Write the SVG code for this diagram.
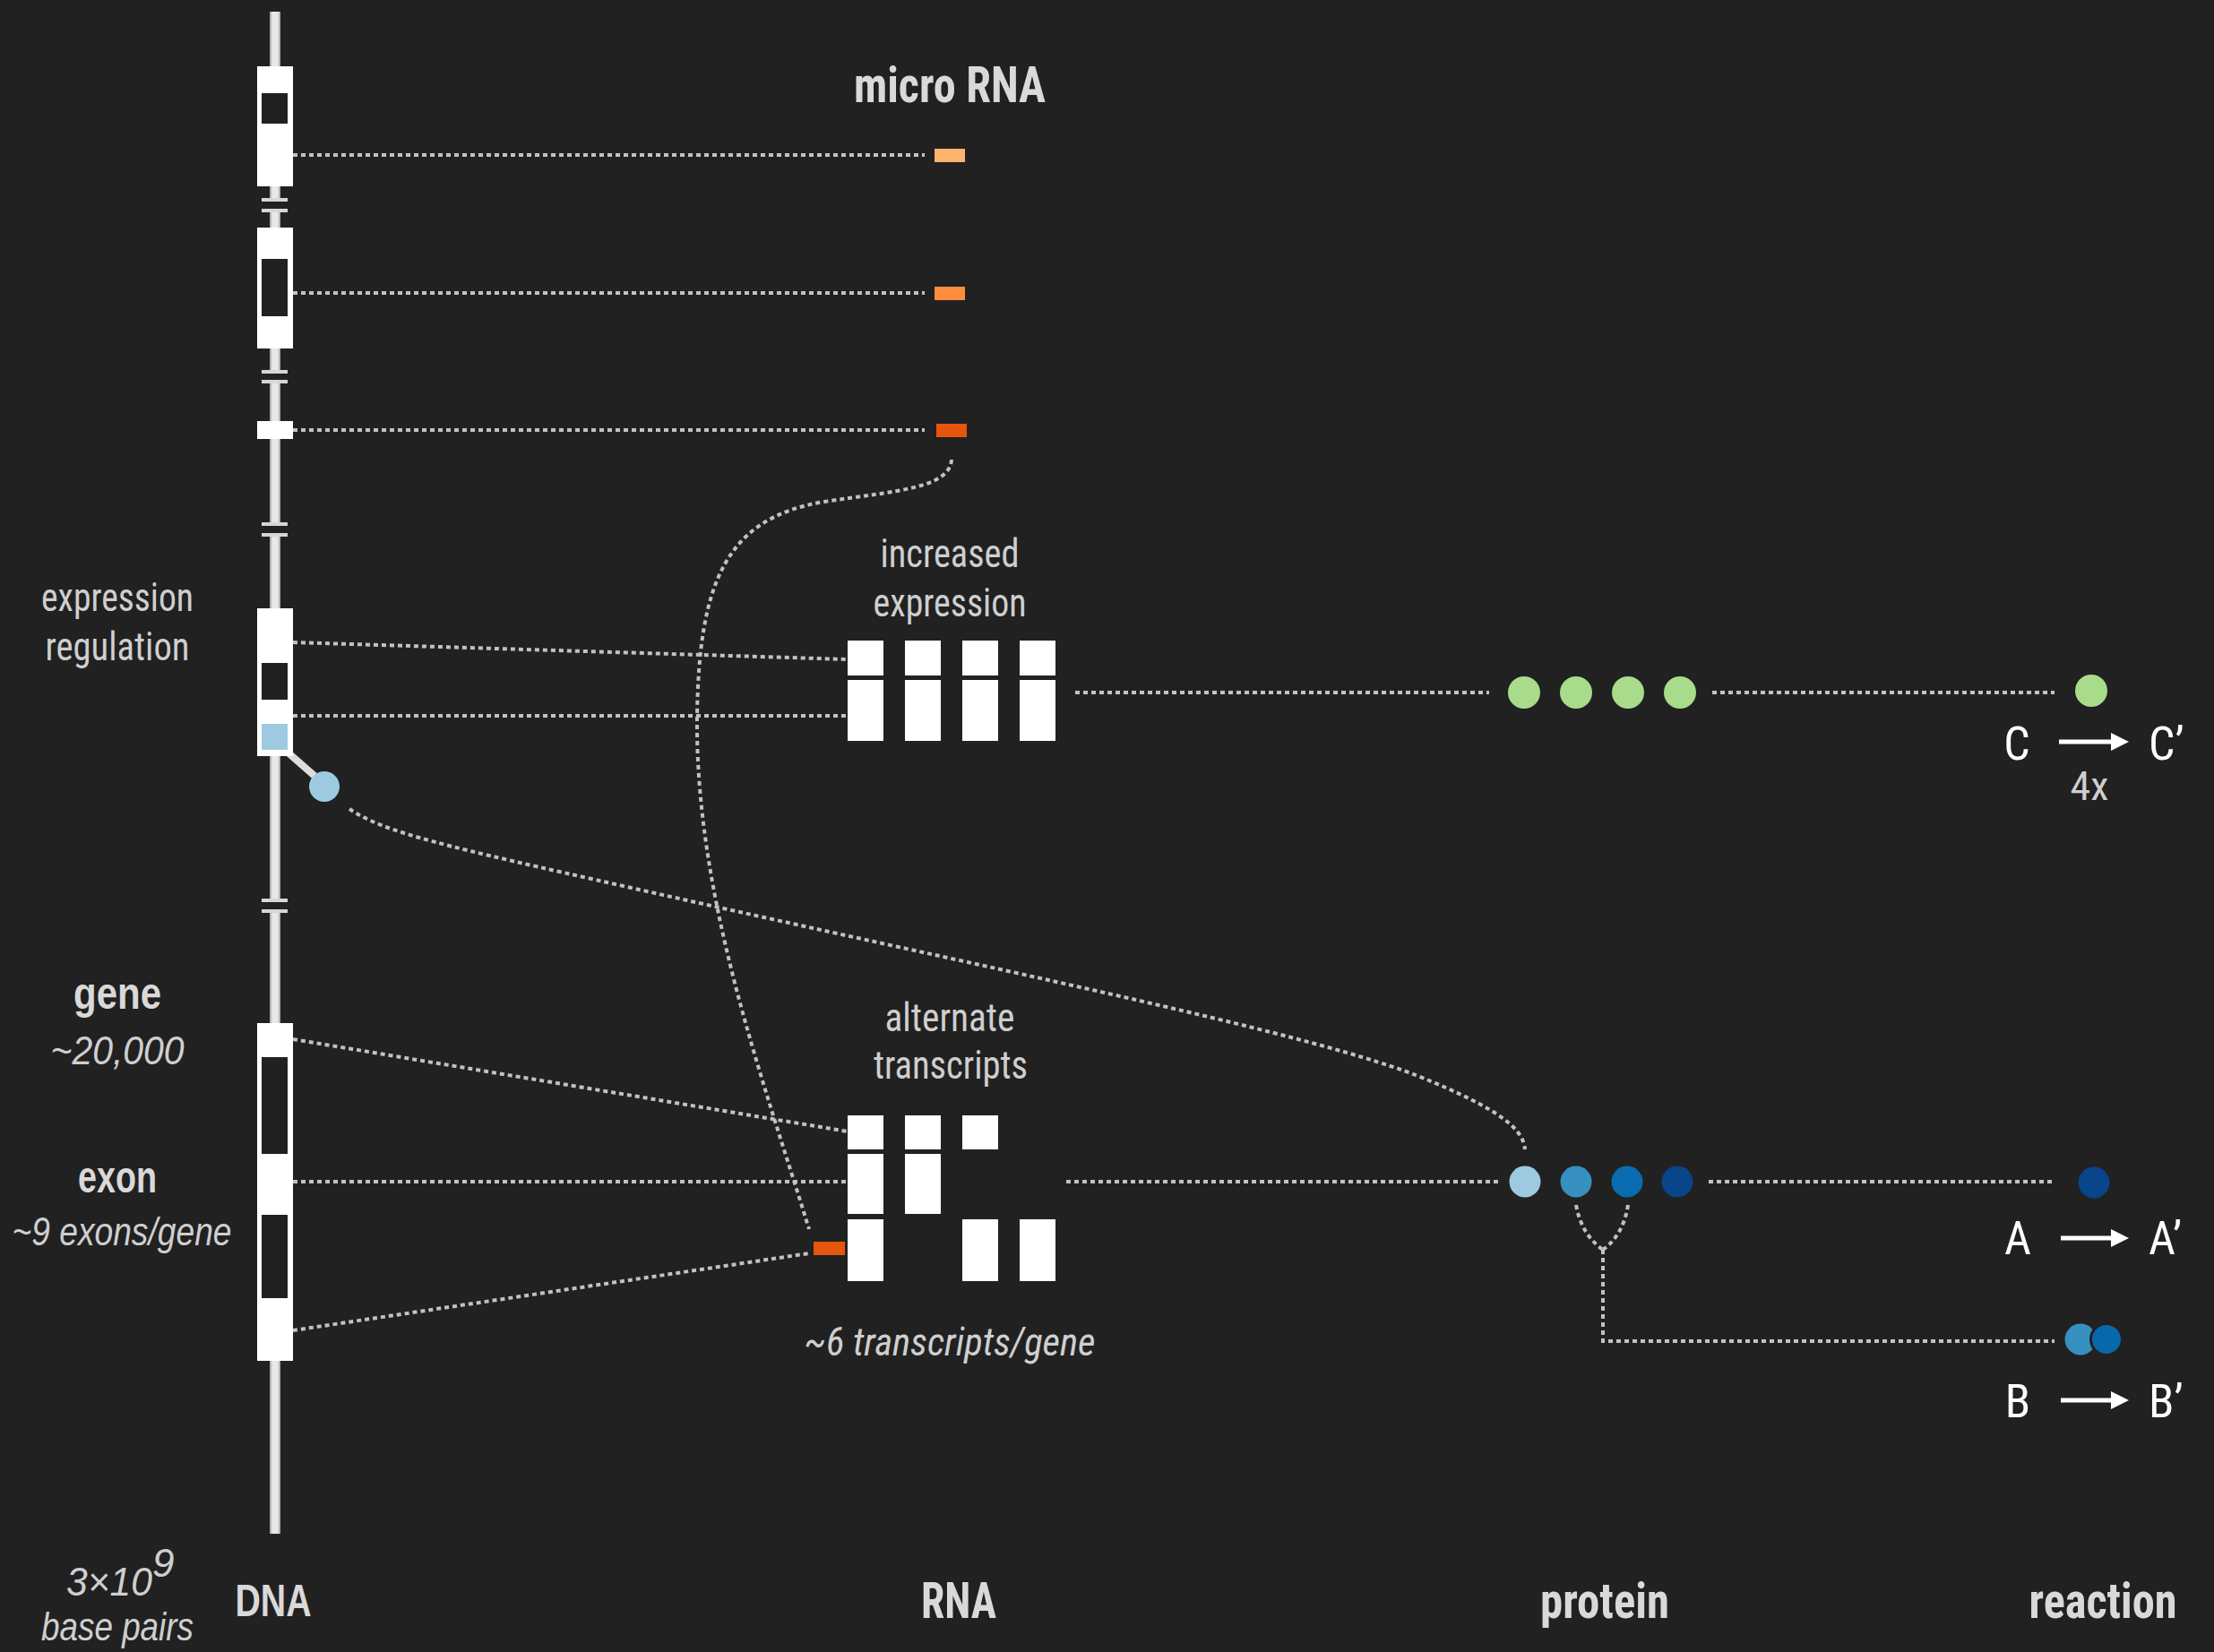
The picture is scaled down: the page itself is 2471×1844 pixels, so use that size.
<svg xmlns="http://www.w3.org/2000/svg" width="2471" height="1844" viewBox="0 0 2471 1844">
<defs>
<style>
.cond{font-family:'Liberation Sans Narrow','Roboto Condensed',Roboto,'Liberation Sans',sans-serif;fill:#cfcfcf;font-size:44px}
.head{font-family:'Liberation Sans Narrow','Roboto Condensed',Roboto,'Liberation Sans',sans-serif;font-weight:bold;fill:#d9d9d9;font-size:55px}
.ital{font-family:'Liberation Sans',Arial,sans-serif;font-style:italic;fill:#cfcfcf;font-size:44px}
.bold{font-family:'Liberation Sans',Arial,sans-serif;font-weight:bold;fill:#d9d9d9;font-size:50px}
.rx{font-family:'Liberation Sans Narrow','Roboto Condensed',Roboto,sans-serif;fill:#ffffff;font-size:52px}
.dot{fill:none;stroke:#c2c2c2;stroke-width:4;stroke-dasharray:5 4}
.exon{fill:#ffffff}
.intron{fill:#212121}
.brk{fill:#d6d6d6}
.gap{fill:#212121}
.arr{stroke:#ffffff;stroke-width:5;fill:none;marker-end:url(#ah)}
</style>
<linearGradient id="rod" x1="0" x2="1" y1="0" y2="0">
<stop offset="0" stop-color="#9a9a9a"/>
<stop offset="0.25" stop-color="#e8e8e8"/>
<stop offset="0.75" stop-color="#e8e8e8"/>
<stop offset="1" stop-color="#9a9a9a"/>
</linearGradient>
<marker id="ah" markerWidth="4" markerHeight="4" viewBox="0 0 10 10" refX="2" refY="5" orient="auto" markerUnits="strokeWidth">
<path d="M0,0 L10,5 L0,10 z" fill="#ffffff"/>
</marker>
</defs>
<rect x="0" y="0" width="2471" height="1844" fill="#212121"/>

<g id="dna-rod">
<rect x="301" y="13" width="12" height="1699" fill="url(#rod)"/>
<rect class="gap" x="298" y="225" width="18" height="8"/>
<rect class="brk" x="292" y="221" width="29" height="4"/>
<rect class="brk" x="292" y="233" width="29" height="4"/>
<rect class="gap" x="298" y="417" width="18" height="7"/>
<rect class="brk" x="292" y="413" width="29" height="4"/>
<rect class="brk" x="292" y="424" width="29" height="4"/>
<rect class="gap" x="298" y="587" width="18" height="8"/>
<rect class="brk" x="292" y="583" width="29" height="4"/>
<rect class="brk" x="292" y="595" width="29" height="4"/>
<rect class="gap" x="298" y="1007" width="18" height="8"/>
<rect class="brk" x="292" y="1003" width="29" height="4"/>
<rect class="brk" x="292" y="1015" width="29" height="4"/>
</g>

<g id="connectors">
<path class="dot" d="M327,173 H1032"/>
<path class="dot" d="M327,327 H1032"/>
<path class="dot" d="M327,480 H1032"/>
<path class="dot" d="M327,717 L946,736"/>
<path class="dot" d="M327,799 H946"/>
<path class="dot" d="M327,1160 L946,1263"/>
<path class="dot" d="M327,1319 H946"/>
<path class="dot" d="M327,1485 L903,1399"/>
<path class="dot" d="M1062,513 C1060,545 1000,548 920,560 C810,578 780,650 778,800 C776,1000 850,1200 903,1372"/>
<path class="dot" d="M390,903 C430,930 500,945 700,990 C1100,1080 1450,1150 1580,1200 C1680,1240 1700,1262 1702,1283"/>
<path class="dot" d="M1200,773 H1662"/>
<path class="dot" d="M1911,773 H2293"/>
<path class="dot" d="M1190,1319 H1676"/>
<path class="dot" d="M1907,1319 H2293"/>
<path class="dot" d="M1759,1345 Q1765,1378 1789,1395"/>
<path class="dot" d="M1817,1345 Q1812,1378 1789,1395"/>
<path class="dot" d="M1789,1395 V1497 H2293"/>
<path d="M319,838 L351,866" stroke="#dddddd" stroke-width="8" fill="none"/>
</g>

<g id="mirna-gene-1">
<rect class="exon" x="287" y="74" width="40" height="134"/>
<rect class="intron" x="292" y="104" width="29" height="34"/>
</g>
<g id="mirna-gene-2">
<rect class="exon" x="287" y="254" width="40" height="135"/>
<rect class="intron" x="292" y="289" width="29" height="64"/>
</g>
<g id="mirna-gene-3">
<rect class="exon" x="287" y="470" width="40" height="20"/>
</g>
<g id="regulated-gene">
<rect class="exon" x="287" y="679" width="40" height="165"/>
<rect class="intron" x="292" y="740" width="29" height="41"/>
<rect x="292" y="808" width="29" height="29" fill="#9ecae1"/>
</g>
<g id="tf-protein">
<circle cx="362" cy="878" r="17" fill="#9ecae1"/>
</g>
<g id="gene">
<rect class="exon" x="287" y="1142" width="40" height="377"/>
<rect class="intron" x="292" y="1180" width="29" height="108"/>
<rect class="intron" x="292" y="1356" width="29" height="93"/>
</g>

<g id="micro-rna">
<text class="head" x="1060" y="114" text-anchor="middle" textLength="214" lengthAdjust="spacingAndGlyphs">micro RNA</text>
<rect x="1043" y="166" width="34" height="15" fill="#fdb46e"/>
<rect x="1043" y="320" width="34" height="15" fill="#fd8d3c"/>
<rect x="1045" y="473" width="34" height="15" fill="#e6550d"/>
</g>

<g id="increased-expression">
<text class="cond" x="1060" y="633" text-anchor="middle" textLength="155" lengthAdjust="spacingAndGlyphs">increased</text>
<text class="cond" x="1060" y="688" text-anchor="middle" textLength="171" lengthAdjust="spacingAndGlyphs">expression</text>
<rect class="exon" x="946" y="715" width="40" height="39"/>
<rect class="exon" x="1010" y="715" width="40" height="39"/>
<rect class="exon" x="1074" y="715" width="40" height="39"/>
<rect class="exon" x="1138" y="715" width="40" height="39"/>
<rect class="exon" x="946" y="759" width="40" height="68"/>
<rect class="exon" x="1010" y="759" width="40" height="68"/>
<rect class="exon" x="1074" y="759" width="40" height="68"/>
<rect class="exon" x="1138" y="759" width="40" height="68"/>
</g>

<g id="alternate-transcripts">
<text class="cond" x="1060" y="1151" text-anchor="middle" font-size="42" textLength="145" lengthAdjust="spacingAndGlyphs">alternate</text>
<text class="cond" x="1061" y="1204" text-anchor="middle" font-size="42" textLength="172" lengthAdjust="spacingAndGlyphs">transcripts</text>
<rect class="exon" x="946" y="1245" width="40" height="38"/>
<rect class="exon" x="1010" y="1245" width="40" height="38"/>
<rect class="exon" x="1074" y="1245" width="40" height="38"/>
<rect class="exon" x="946" y="1288" width="40" height="67"/>
<rect class="exon" x="1010" y="1288" width="40" height="67"/>
<rect class="exon" x="946" y="1361" width="40" height="69"/>
<rect class="exon" x="1074" y="1361" width="40" height="69"/>
<rect class="exon" x="1138" y="1361" width="40" height="69"/>
<rect x="908" y="1386" width="35" height="15" fill="#e6550d"/>
<text class="cond" x="1060" y="1513" text-anchor="middle" font-style="italic" textLength="325" lengthAdjust="spacingAndGlyphs">~6 transcripts/gene</text>
</g>

<g id="proteins-c">
<circle cx="1701" cy="773" r="18" fill="#a8dc8a"/>
<circle cx="1759" cy="773" r="18" fill="#a8dc8a"/>
<circle cx="1817" cy="773" r="18" fill="#a8dc8a"/>
<circle cx="1875" cy="773" r="18" fill="#a8dc8a"/>
</g>
<g id="proteins-ab">
<circle cx="1702" cy="1319" r="17.5" fill="#9ecae1"/>
<circle cx="1759" cy="1319" r="17.5" fill="#3690c0"/>
<circle cx="1816" cy="1319" r="17.5" fill="#0a6bb0"/>
<circle cx="1872" cy="1319" r="17.5" fill="#08458a"/>
</g>

<g id="reaction-c">
<circle cx="2334" cy="771" r="18" fill="#a8dc8a"/>
<text class="rx" x="2251" y="848" text-anchor="middle">C</text>
<path class="arr" d="M2298,828 H2360"/>
<text class="rx" x="2398" y="848">C’</text>
<text class="cond" x="2332" y="893" text-anchor="middle" font-size="38" textLength="43" lengthAdjust="spacingAndGlyphs">4x</text>
</g>
<g id="reaction-a">
<circle cx="2337" cy="1320" r="17.5" fill="#08458a"/>
<text class="rx" x="2252" y="1400" text-anchor="middle">A</text>
<path class="arr" d="M2300,1382 H2360"/>
<text class="rx" x="2398" y="1400">A’</text>
</g>
<g id="reaction-b">
<circle cx="2322" cy="1495" r="17.5" fill="#3690c0"/>
<circle cx="2351" cy="1495" r="17.5" fill="#0868ac" stroke="#212121" stroke-width="3"/>
<text class="rx" x="2252" y="1582" text-anchor="middle">B</text>
<path class="arr" d="M2300,1563 H2360"/>
<text class="rx" x="2398" y="1582">B’</text>
</g>

<g id="left-labels">
<text class="cond" x="131" y="682" text-anchor="middle" textLength="170" lengthAdjust="spacingAndGlyphs">expression</text>
<text class="cond" x="131" y="737" text-anchor="middle" textLength="161" lengthAdjust="spacingAndGlyphs">regulation</text>
<text class="bold" x="131" y="1126" text-anchor="middle" textLength="98" lengthAdjust="spacingAndGlyphs">gene</text>
<text class="ital" x="131" y="1188" text-anchor="middle" font-size="46" textLength="149" lengthAdjust="spacingAndGlyphs">~20,000</text>
<text class="bold" x="131" y="1331" text-anchor="middle" textLength="88" lengthAdjust="spacingAndGlyphs">exon</text>
<text class="ital" x="136" y="1390" text-anchor="middle" textLength="245" lengthAdjust="spacingAndGlyphs">~9 exons/gene</text>
<text class="ital" x="74" y="1781" font-size="46" textLength="96" lengthAdjust="spacingAndGlyphs">3×10</text>
<text class="ital" x="170" y="1760" font-size="40">9</text>
<text class="ital" x="131" y="1831" text-anchor="middle" textLength="170" lengthAdjust="spacingAndGlyphs">base pairs</text>
</g>

<g id="column-labels">
<text class="bold" x="305" y="1804" text-anchor="middle" font-size="53" textLength="85" lengthAdjust="spacingAndGlyphs">DNA</text>
<text class="head" x="1070" y="1806" text-anchor="middle" textLength="84" lengthAdjust="spacingAndGlyphs">RNA</text>
<text class="head" x="1791" y="1806" text-anchor="middle" textLength="144" lengthAdjust="spacingAndGlyphs">protein</text>
<text class="head" x="2347" y="1806" text-anchor="middle" textLength="165" lengthAdjust="spacingAndGlyphs">reaction</text>
</g>
</svg>
